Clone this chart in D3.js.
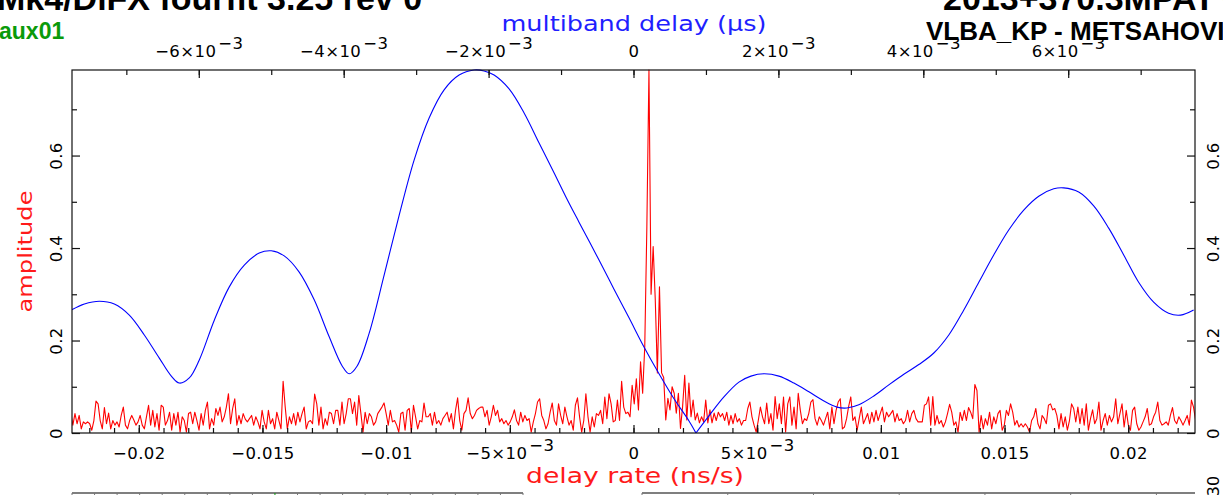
<!DOCTYPE html>
<html><head><meta charset="utf-8">
<script src="https://cdn.jsdelivr.net/npm/d3@7"></script>
<style>
html,body{margin:0;padding:0;background:#fff;overflow:hidden;}
svg{display:block;}
.hdr{font-family:"Liberation Sans",Arial,sans-serif;font-weight:bold;}
.lbl{font-family:"DejaVu Sans",sans-serif;}
</style></head><body>
<svg id="chart" width="1223" height="495"></svg>
<script>
// ---- delay-rate spectrum (red): amplitude on an even delay-rate grid ----
const rateStart = -0.02275;   // ns/s, first grid point
const rateStep = 8.5e-5;      // ns/s, grid spacing
const rateAmp = [
  0.042,0.017,0.042,0.020,0.038,0.009,0.024,0.020,0.024,0.020,
  0.006,0.027,0.069,0.063,0.027,0.009,0.055,0.020,0.043,0.009,
  0.027,0.017,0.024,0.013,0.038,0.056,0.017,0.009,0.027,0.038,0.028,
  0.017,0.024,0.038,0.017,0.009,0.035,0.060,0.017,0.049,0.013,
  0.042,0.006,0.060,0.056,0.017,0.027,0.045,0.006,0.042,0.017,
  0.045,0.002,0.035,0.027,0.002,0.042,0.045,0.020,0.045,0.027,
  0.006,0.042,0.017,0.049,0.067,0.009,0.031,0.017,0.053,0.038,
  0.056,0.024,0.035,0.056,0.085,0.020,0.053,0.074,0.017,0.038,
  0.020,0.042,0.030,0.024,0.031,0.038,0.017,0.035,0.024,0.009,0.049,
  0.024,0.009,0.049,0.020,0.031,0.009,0.045,0.027,0.009,0.112,
  0.056,0.009,0.035,0.020,0.042,0.017,0.045,0.024,0.042,0.056,
  0.009,0.024,0.027,0.020,0.084,0.063,0.017,0.056,0.009,0.031,
  0.017,0.045,0.042,0.020,0.049,0.049,0.017,0.067,0.020,0.042,0.074,
  // -0.011 .. 0 ns/s
  0.074,0.042,0.067,0.017,0.081,0.042,0.002,0.045,0.020,0.042,
  0.035,0.017,0.024,0.042,0.049,0.056,0.065,0.042,0.017,0.049,
  0.024,0.027,0.017,0.002,0.042,0.045,0.006,0.049,0.053,0.002,
  0.060,0.035,0.009,0.027,0.024,0.065,0.035,0.035,0.042,0.017,
  0.045,0.020,0.027,0.017,0.031,0.038,0.045,0.024,0.042,0.009,
  0.049,0.076,0.027,0.006,0.042,0.049,0.076,0.042,0.031,0.038,
  0.049,0.053,0.056,0.056,0.035,0.049,0.017,0.035,0.060,0.038,
  0.049,0.024,0.031,0.020,0.027,0.017,0.024,0.035,0.050,0.027,
  0.017,0.045,0.024,0.038,0.027,0.031,0.002,0.024,0.042,0.067,
  0.074,0.038,0.027,0.009,0.020,0.045,0.065,0.027,0.017,0.063,
  0.038,0.020,0.056,0.035,0.017,0.027,0.006,0.060,0.076,0.035,
  0.002,0.027,0.085,0.035,0.002,0.035,0.013,0.042,0.038,0.049,
  0.020,0.078,0.031,0.085,0.063,0.024,0.027,0.071,0.027,0.112,
  0.056,0.042,0.045,0.035,0.103,0.063,0.117,
  // main fringe peak
  0.050,0.154,0.086,0.187,0.446,0.785,0.300,0.403,0.288,0.130,
  0.316,0.130,0.120,0.028,0.075,0.050,0.100,0.086,0.043,0.086,
  0.010,0.057,0.125,0.028,0.108,0.035,0.071,0.028,0.043,0.022,
  0.035,0.024,0.071,0.022,0.050,0.022,0.043,
  0.027,0.045,0.035,0.042,0.027,0.045,0.017,0.038,0.020,0.042,
  0.024,0.031,0.017,0.027,0.027,0.053,0.067,0.035,0.017,0.002,
  0.027,0.056,0.035,0.020,0.065,0.020,0.042,0.006,0.079,0.031,
  0.063,0.020,0.078,0.002,0.063,0.078,0.017,0.056,0.009,0.086,
  0.049,0.020,0.031,0.027,0.042,0.067,0.072,0.031,0.017,0.035,
  0.027,0.017,0.031,0.045,0.009,0.056,0.020,0.049,0.067,0.074,
  0.009,0.013,0.031,0.058,0.078,0.027,0.035,0.006,0.031,0.056,
  0.020,0.031,0.042,0.020,0.045,0.024,0.049,0.027,0.042,0.056,
  0.024,0.045,0.035,0.042,0.049,0.024,0.042,0.027,0.031,0.020,
  0.027,0.049,0.024,0.042,0.049,0.031,0.024,
  // 0.0116 .. 0.0227 ns/s
  0.024,0.024,0.060,0.063,0.078,0.017,0.079,0.017,0.038,0.020,
  0.027,0.013,0.024,0.042,0.062,0.045,0.017,0.024,0.002,0.045,
  0.027,0.049,0.027,0.055,0.045,0.031,0.105,0.092,0.002,0.038,
  0.009,0.031,0.017,0.045,0.009,0.035,0.020,0.042,0.049,0.006,
  0.017,0.049,0.038,0.063,0.045,0.017,0.027,0.013,0.020,0.013,
  0.020,0.013,0.002,0.027,0.035,0.053,0.020,0.009,0.038,0.031,
  0.020,0.060,0.063,0.050,0.053,0.038,0.009,0.042,0.013,0.035,
  0.006,0.027,0.063,0.053,0.024,0.056,0.020,0.053,0.017,0.063,
  0.006,0.031,0.050,0.020,0.031,0.067,0.006,0.027,0.042,0.017,
  0.038,0.024,0.035,0.074,0.020,0.042,0.063,0.013,0.049,0.017,
  0.006,0.049,0.056,0.020,0.006,0.013,0.024,0.035,0.053,0.017,
  0.020,0.035,0.045,0.067,0.027,0.017,0.020,0.024,0.017,0.038,
  0.055,0.027,0.020,0.035,0.027,0.017,0.027,0.038,0.017,0.071,
  0.056,0.027,0.045,0.020
];

// ---- multiband delay function (blue) ----
const mbdDelay = [ // microseconds
  -7.759e-3,-7.579e-3,-7.372e-3,-7.166e-3,-6.959e-3,-6.752e-3,-6.545e-3,-6.379e-3,-6.269e-3,-6.131e-3,
  -5.993e-3,-5.786e-3,-5.579e-3,-5.372e-3,-5.166e-3,-5.000e-3,-4.821e-3,-4.614e-3,-4.407e-3,-4.200e-3,
  -4.021e-3,-3.924e-3,-3.814e-3,-3.648e-3,-3.441e-3,-3.234e-3,-3.028e-3,-2.821e-3,-2.614e-3,-2.407e-3,
  -2.200e-3,-2.062e-3,-1.924e-3,-1.717e-3,-1.510e-3,-1.303e-3,-1.097e-3,-0.931e-3,-0.752e-3,-0.476e-3,
  -0.269e-3,-0.062e-3,0.145e-3,0.352e-3,0.559e-3,0.766e-3,0.862e-3,1.041e-3,1.248e-3,1.455e-3,
  1.621e-3,1.800e-3,2.007e-3,2.214e-3,2.421e-3,2.628e-3,2.807e-3,2.945e-3,3.110e-3,3.317e-3,
  3.524e-3,3.731e-3,3.938e-3,4.145e-3,4.352e-3,4.559e-3,4.766e-3,4.972e-3,5.179e-3,5.386e-3,
  5.593e-3,5.800e-3,5.938e-3,6.145e-3,6.352e-3,6.559e-3,6.766e-3,6.972e-3,7.179e-3,7.386e-3,
  7.552e-3,7.731e-3
];
const mbdAmp = [
  0.266,0.279,0.285,0.279,0.255,0.212,0.162,0.123,0.108,0.119,
  0.158,0.244,0.316,0.363,0.389,0.394,0.383,0.348,0.288,0.208,
  0.145,0.128,0.145,0.216,0.342,0.471,0.590,0.681,0.742,0.774,
  0.785,0.783,0.774,0.744,0.692,0.627,0.563,0.510,0.456,0.374,
  0.311,0.249,0.186,0.128,0.074,0.026,0.000,0.037,0.078,0.110,
  0.123,0.128,0.123,0.108,0.089,0.069,0.056,0.054,0.061,0.080,
  0.104,0.127,0.148,0.173,0.212,0.266,0.326,0.385,0.439,0.482,
  0.512,0.528,0.530,0.521,0.491,0.443,0.385,0.326,0.283,0.259,
  0.255,0.266
];

// ---- axes ----
const rateTicks = [-0.02,-0.015,-0.01,-0.005,0,0.005,0.01,0.015,0.02];
const rateTickLabels = ["−0.02","−0.015","−0.01","−5×10^−3","0","5×10^−3","0.01","0.015","0.02"];
const delayTicks = [-0.006,-0.004,-0.002,0,0.002,0.004,0.006];
const delayTickLabels = ["−6×10^−3","−4×10^−3","−2×10^−3","0","2×10^−3","4×10^−3","6×10^−3"];
const ampTicks = [0,0.2,0.4,0.6];
const ampTickLabels = ["0","0.2","0.4","0.6"];

const headerLeft = "Mk4/DiFX fourfit 3.25 rev 0";
const headerRight = "2013+370.3MPATY";
const corrLabel = "aux01";
const baselineLabel = "VLBA_KP - METSAHOVI";

const svg = d3.select("#chart");
const P = {left:72, right:1195, top:70, bottom:433};

const x = d3.scaleLinear().domain([-0.0227,0.0227]).range([P.left,P.right]);
const xTop = d3.scaleLinear().domain([-0.00775,0.00775]).range([P.left,P.right]);
const y = d3.scaleLinear().domain([0,0.785]).range([P.bottom,P.top]);

svg.append("rect").attr("width",1223).attr("height",495).attr("fill","#fff");

svg.append("defs").append("clipPath").attr("id","plotclip")
  .append("rect").attr("x",P.left).attr("y",P.top-1)
  .attr("width",P.right-P.left).attr("height",P.bottom-P.top+1);

// curves
const plot = svg.append("g").attr("clip-path","url(#plotclip)");

const redPts = rateAmp.map((a,i)=>[rateStart+i*rateStep, a]);
plot.append("path")
  .attr("d", d3.line().x(d=>x(d[0])).y(d=>y(d[1]))(redPts))
  .attr("fill","none").attr("stroke","#ff0000").attr("stroke-width",1.1)
  .attr("stroke-linejoin","round");

const bluePts = mbdDelay.map((d,i)=>[d, mbdAmp[i]]);
const vIdx = d3.minIndex(mbdAmp);
const blueLine = d3.line().x(d=>xTop(d[0])).y(d=>y(d[1])).curve(d3.curveCatmullRom.alpha(0.5));
[bluePts.slice(0,vIdx+1), bluePts.slice(vIdx)].forEach(seg=>{
  plot.append("path").attr("d", blueLine(seg))
    .attr("fill","none").attr("stroke","#0000ff").attr("stroke-width",1.1);
});

// frame
svg.append("rect").attr("x",P.left).attr("y",P.top)
  .attr("width",P.right-P.left).attr("height",P.bottom-P.top)
  .attr("fill","none").attr("stroke","#111").attr("stroke-width",1.2);

function styleAxis(g){
  g.select(".domain").remove();
  g.selectAll(".tick line").attr("stroke","#111").attr("stroke-width",1.2);
  g.selectAll("text").attr("class","lbl").attr("fill","#000")
    .attr("font-size",16.5).attr("letter-spacing",0.4);
}
function superscript(sel){
  sel.each(function(){
    const t = d3.select(this);
    const s = t.text();
    if (s.includes("^")) {
      const [base, exp] = s.split("^");
      t.text("");
      t.append("tspan").text(base);
      t.append("tspan").attr("dy",-8).attr("dx",2).text(exp);
    }
  });
}

const rateMinor = d3.range(-22,23).map(v=>v/1000);
const delayMinor = d3.range(-7,8).map(v=>v/1000);
const ampMinor = [0.1,0.3,0.5,0.7];

// bottom axis: delay rate
svg.append("g").attr("transform",`translate(0,${P.bottom})`)
  .call(d3.axisBottom(x).tickValues(rateMinor).tickSize(-5).tickFormat(""))
  .call(styleAxis);
const gb = svg.append("g").attr("transform",`translate(0,${P.bottom})`)
  .call(d3.axisBottom(x).tickValues(rateTicks).tickSize(-8)
    .tickFormat((d,i)=>rateTickLabels[i]))
  .call(styleAxis);
gb.selectAll("text").attr("y",26).attr("dy",null).call(superscript);

// top axis: multiband delay
svg.append("g").attr("transform",`translate(0,${P.top})`)
  .call(d3.axisTop(xTop).tickValues(delayMinor).tickSize(-5).tickFormat(""))
  .call(styleAxis);
const gt = svg.append("g").attr("transform",`translate(0,${P.top})`)
  .call(d3.axisTop(xTop).tickValues(delayTicks).tickSize(-8)
    .tickFormat((d,i)=>delayTickLabels[i]))
  .call(styleAxis);
gt.selectAll("text").attr("y",-13).attr("dy",null).call(superscript);

// left and right amplitude axes
[[P.left,d3.axisLeft,-10],[P.right,d3.axisRight,24]].forEach(([x0,ax,off])=>{
  svg.append("g").attr("transform",`translate(${x0},0)`)
    .call(ax(y).tickValues(ampMinor).tickSize(-5).tickFormat(""))
    .call(styleAxis);
  const g = svg.append("g").attr("transform",`translate(${x0},0)`)
    .call(ax(y).tickValues(ampTicks).tickSize(-8).tickFormat((d,i)=>ampTickLabels[i]))
    .call(styleAxis);
  g.selectAll("text").attr("x",null).attr("dy",null).attr("y",null)
    .attr("text-anchor","middle")
    .attr("transform",`translate(${off},0) rotate(-90)`);
});

// axis titles
svg.append("text").attr("class","lbl").attr("x",634).attr("y",31)
  .attr("text-anchor","middle").attr("font-size",21).attr("fill","#1f1fff")
  .attr("textLength",265).attr("lengthAdjust","spacingAndGlyphs")
  .text("multiband delay (μs)");
svg.append("text").attr("class","lbl").attr("x",635).attr("y",483)
  .attr("text-anchor","middle").attr("font-size",21).attr("fill","#ff1a1a")
  .attr("textLength",218).attr("lengthAdjust","spacingAndGlyphs")
  .text("delay rate (ns/s)");
svg.append("text").attr("class","lbl")
  .attr("transform",`translate(32,${(P.top+P.bottom)/2}) rotate(-90)`)
  .attr("text-anchor","middle").attr("font-size",19).attr("fill","#ff1a1a")
  .attr("textLength",122).attr("lengthAdjust","spacingAndGlyphs")
  .text("amplitude");

// header
svg.append("text").attr("class","hdr").attr("x",-3).attr("y",10)
  .attr("font-size",34).attr("fill","#000").text(headerLeft);
svg.append("text").attr("class","hdr").attr("x",-1).attr("y",39)
  .attr("font-size",23).attr("fill","#0a9a0a").text(corrLabel);
svg.append("text").attr("class","hdr").attr("x",943).attr("y",10)
  .attr("font-size",34).attr("fill","#000").text(headerRight);
svg.append("text").attr("class","hdr").attr("x",926).attr("y",40)
  .attr("font-size",26).attr("fill","#000").text(baselineLabel);

// top edge of the panels below
const strip = svg.append("g");
const leftStrip = d3.scaleLinear().domain([0,20]).range([72,523]);
strip.append("line").attr("x1",72).attr("x2",523).attr("y1",493).attr("y2",493)
  .attr("stroke","#555").attr("stroke-width",1.5);
strip.selectAll(".lt").data(d3.range(0,21)).join("line")
  .attr("x1",d=>leftStrip(d)).attr("x2",d=>leftStrip(d)).attr("y1",493).attr("y2",495)
  .attr("stroke",(d)=>d===9?"#0a9a0a":"#777");
const rightStrip = d3.scaleLinear().domain([0,6.45]).range([642,1195]);
strip.append("line").attr("x1",642).attr("x2",1195).attr("y1",493).attr("y2",493)
  .attr("stroke","#555").attr("stroke-width",1.5);
strip.selectAll(".rt").data(d3.range(0,7)).join("line")
  .attr("x1",d=>rightStrip(d)).attr("x2",d=>rightStrip(d)).attr("y1",493).attr("y2",495)
  .attr("stroke","#777");
strip.append("text").attr("class","lbl").attr("font-size",16)
  .attr("text-anchor","middle").attr("transform","translate(1219,486) rotate(-90)")
  .text("30");
</script>
</body></html>
